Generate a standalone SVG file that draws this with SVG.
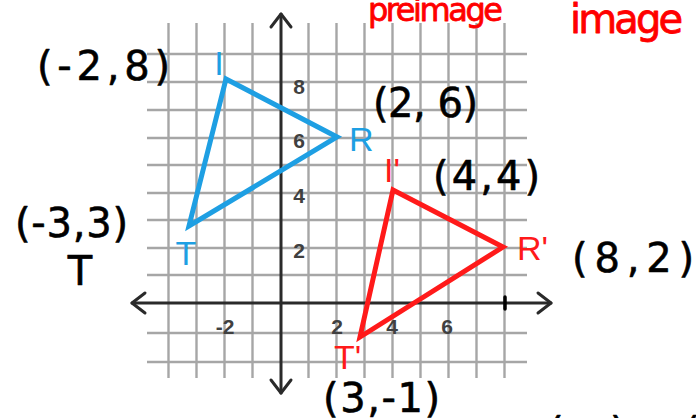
<svg xmlns="http://www.w3.org/2000/svg" width="696" height="418" viewBox="0 0 696 418">
  <style>
    .grid line { stroke: #a6a6a6; stroke-width: 2.4; }
    .axis { stroke: #2a2a2a; stroke-width: 3; fill: none; stroke-linecap: round; stroke-linejoin: round; }
    .num { font-family: "Liberation Sans", Arial, sans-serif; font-size: 21px; fill: #404040; text-anchor: middle; font-weight: bold; }
    .tri { fill: none; stroke-width: 5; stroke-linejoin: miter; stroke-miterlimit: 10; }
    .blue { fill: #1e9fe3; }
    .red { fill: #ff1a1a; }
    .lbl { font-family: "Liberation Sans", Arial, sans-serif; font-size: 34px; }
    .hand { font-family: "DejaVu Sans", "Liberation Sans", sans-serif; font-size: 40px; fill: #000; stroke: #000; stroke-width: 0.6; stroke-linejoin: round; }
    .redhand { font-family: "DejaVu Sans", "Liberation Sans", sans-serif; fill: #ff0000; stroke: #ff0000; stroke-width: 0.8; stroke-linejoin: round; }
  </style>

  <rect width="696" height="418" fill="#ffffff"/>

  <g id="grid" class="grid">
    <line x1="168.5" y1="23" x2="168.5" y2="378"/>
    <line x1="196.5" y1="23" x2="196.5" y2="378"/>
    <line x1="224.5" y1="23" x2="224.5" y2="378"/>
    <line x1="252.5" y1="23" x2="252.5" y2="378"/>
    <line x1="308.5" y1="23" x2="308.5" y2="378"/>
    <line x1="336.5" y1="23" x2="336.5" y2="378"/>
    <line x1="364.5" y1="23" x2="364.5" y2="378"/>
    <line x1="392.5" y1="23" x2="392.5" y2="378"/>
    <line x1="420.5" y1="23" x2="420.5" y2="378"/>
    <line x1="448.5" y1="23" x2="448.5" y2="378"/>
    <line x1="476.5" y1="23" x2="476.5" y2="378"/>
    <line x1="504.5" y1="23" x2="504.5" y2="378"/>
    <line x1="147" y1="54" x2="527" y2="54"/>
    <line x1="147" y1="82" x2="527" y2="82"/>
    <line x1="147" y1="110" x2="527" y2="110"/>
    <line x1="147" y1="138" x2="527" y2="138"/>
    <line x1="147" y1="165" x2="527" y2="165"/>
    <line x1="147" y1="193" x2="527" y2="193"/>
    <line x1="147" y1="220" x2="527" y2="220"/>
    <line x1="147" y1="248" x2="527" y2="248"/>
    <line x1="147" y1="275" x2="527" y2="275"/>
    <line x1="147" y1="333" x2="527" y2="333"/>
    <line x1="147" y1="362" x2="527" y2="362"/>
  </g>

  <g id="axes">
    <line class="axis" x1="132" y1="303" x2="551" y2="303"/>
    <line class="axis" x1="281" y1="14" x2="281" y2="393"/>
    <polyline class="axis" points="145,293 132,303 145,313"/>
    <polyline class="axis" points="538,293 551,303 538,313"/>
    <polyline class="axis" points="271,27 281,14 291,27"/>
    <polyline class="axis" points="271,380 281,393 291,380"/>
    <line x1="505" y1="297" x2="505" y2="309" style="stroke:#000;stroke-width:3.5;stroke-linecap:round"/>
  </g>

  <g id="axis-numbers">
    <text class="num" x="299" y="94">8</text>
    <text class="num" x="299" y="148">6</text>
    <text class="num" x="299" y="203">4</text>
    <text class="num" x="299" y="258">2</text>
    <text class="num" x="225" y="334">-2</text>
    <text class="num" x="337" y="334">2</text>
    <text class="num" x="392" y="334">4</text>
    <text class="num" x="447" y="334">6</text>
  </g>

  <g id="preimage-triangle">
    <polygon class="tri" points="226,79 337,137 189,226" stroke="#1e9fe3"/>
    <text class="lbl blue" x="219" y="75" text-anchor="middle">I</text>
    <text class="lbl blue" x="349" y="151">R</text>
    <text class="lbl blue" x="186" y="265" text-anchor="middle">T</text>
  </g>

  <g id="image-triangle">
    <polygon class="tri" points="393,190 503,247 360,337" stroke="#ff1a1a"/>
    <text class="lbl red" x="384" y="182">I'</text>
    <text class="lbl red" x="517" y="260">R'</text>
    <text class="lbl red" x="334" y="369">T'</text>
  </g>

  <g id="handwritten">
    <text class="hand" x="37" y="80" textLength="133" lengthAdjust="spacing">(-2,8)</text>
    <text class="hand" x="373" y="117" textLength="105" lengthAdjust="spacing">(2, 6)</text>
    <text class="hand" x="433" y="190" textLength="107" lengthAdjust="spacing">(4,4)</text>
    <text class="hand" x="15" y="237" textLength="113" lengthAdjust="spacing">(-3,3)</text>
    <text class="hand" x="80" y="285" text-anchor="middle">T</text>
    <text class="hand" x="572" y="272" textLength="122" lengthAdjust="spacing">(8,2)</text>
    <text class="hand" x="323" y="412" font-size="38" textLength="117" lengthAdjust="spacing">(3,-1)</text>
    <text class="hand" x="548 610 684" y="446">()(</text>
    <text class="redhand" x="368" y="21" font-size="32" textLength="135" lengthAdjust="spacing">preimage</text>
    <text class="redhand" x="570" y="33" font-size="40" textLength="113" lengthAdjust="spacing">image</text>
  </g>
</svg>
